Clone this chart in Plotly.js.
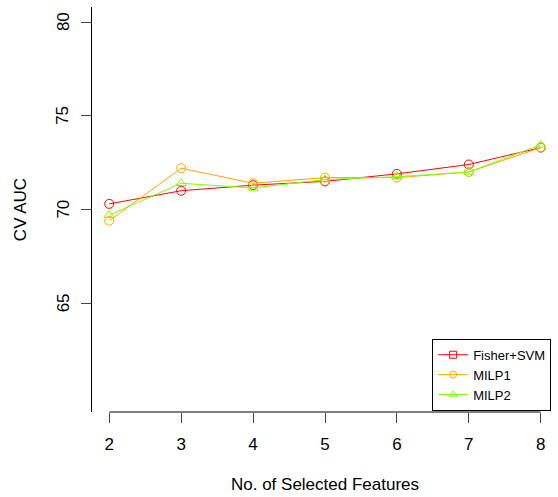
<!DOCTYPE html>
<html>
<head>
<meta charset="utf-8">
<script src="https://cdn.plot.ly/plotly-3.0.1.min.js"></script>
<style>html,body{margin:0;padding:0;background:#fff;}#chart{width:558px;height:497px;}</style>
</head>
<body>
<div id="chart"></div>
<script>
const features = [2, 3, 4, 5, 6, 7, 8];
const fisherSVM = [70.3, 71.0, 71.3, 71.5, 71.9, 72.4, 73.3];
const milp1 = [69.4, 72.2, 71.4, 71.7, 71.7, 72.0, 73.3];
const milp2 = [69.7, 71.4, 71.15, 71.6, 71.75, 72.0, 73.45];
const seriesNames = ['Fisher+SVM', 'MILP1', 'MILP2'];
const yTicks = [65, 70, 75, 80];

const colors = ['#FF0000', '#FFA500', '#80FF00'];
const plotSymbols = ['circle-open', 'circle-open', 'triangle-up-open'];
const legendSymbols = ['square-open', 'circle-open', 'triangle-up-open'];
const series = [fisherSVM, milp1, milp2];

const traces = [];
series.forEach((ys, i) => {
  traces.push({
    x: features, y: ys, type: 'scatter', mode: 'lines+markers',
    name: seriesNames[i], showlegend: false,
    line: {color: colors[i], width: 1},
    marker: {symbol: plotSymbols[i], size: 9, color: colors[i], line: {width: 1, color: colors[i]}}
  });
});
series.forEach((ys, i) => {
  traces.push({
    x: [null], y: [null], type: 'scatter', mode: 'lines+markers',
    name: seriesNames[i], showlegend: true,
    line: {color: colors[i], width: 1},
    marker: {symbol: legendSymbols[i], size: 7, color: colors[i], line: {width: 1, color: colors[i]}}
  });
});

const font = 'Liberation Sans, Arial, Helvetica, sans-serif';
const yTickAnnotations = yTicks.map(v => ({
  xref: 'paper', yref: 'y', x: -0.062, y: v, text: String(v),
  showarrow: false, textangle: -90, xanchor: 'center', yanchor: 'middle',
  font: {family: font, size: 17, color: '#000'}
}));

const layout = {
  width: 558, height: 497,
  margin: {l: 92, r: 0, t: 7, b: 85},
  paper_bgcolor: '#fff', plot_bgcolor: '#fff',
  font: {family: font, size: 17, color: '#000'},
  showlegend: true,
  legend: {
    x: 0.73, y: 0.003, xanchor: 'left', yanchor: 'bottom',
    bordercolor: '#000', borderwidth: 1, bgcolor: '#fff',
    font: {family: font, size: 13, color: '#000'},
    tracegroupgap: 0
  },
  xaxis: {
    range: [1.76, 8.24], tickvals: features, ticktext: features.map(String),
    showgrid: false, zeroline: false, showline: false,
    ticks: 'outside', ticklen: 10, tickcolor: '#444', tickwidth: 1,
    ticklabelstandoff: 7,
    tickfont: {family: font, size: 17},
    title: {text: 'No. of Selected Features', font: {family: font, size: 17}, standoff: 24},
    automargin: false
  },
  yaxis: {
    range: [59.2, 80.8], tickvals: yTicks,
    showgrid: false, zeroline: false, showline: true, linecolor: '#000', linewidth: 1,
    ticks: 'outside', ticklen: 10, tickcolor: '#444', tickwidth: 1,
    showticklabels: false,
    title: {text: 'CV AUC', font: {family: font, size: 17}, standoff: 50},
    automargin: false
  },
  annotations: yTickAnnotations,
  shapes: [{
    type: 'line', xref: 'x', yref: 'paper', x0: 2, x1: 8, y0: 0, y1: 0,
    line: {color: '#000', width: 1}
  }]
};

Plotly.newPlot('chart', traces, layout, {displayModeBar: false, staticPlot: true});
</script>
</body>
</html>
